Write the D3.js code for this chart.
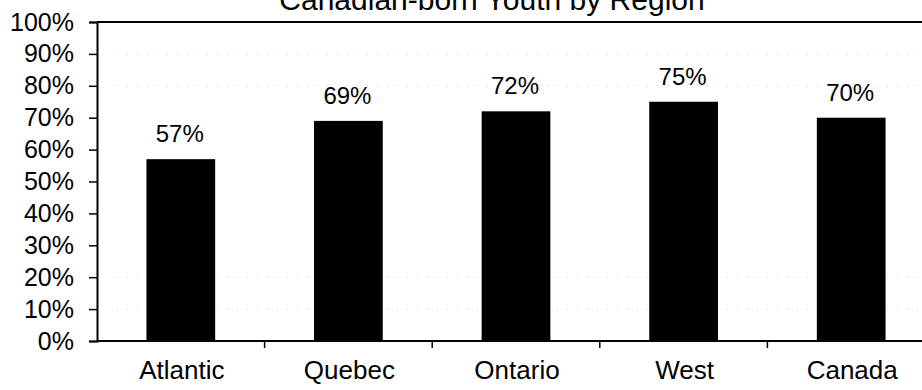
<!DOCTYPE html>
<html>
<head>
<meta charset="utf-8">
<script src="https://cdn.jsdelivr.net/npm/d3@7"></script>
<style>
  html, body { margin: 0; padding: 0; background: #fff; }
  svg { display: block; font-family: "Liberation Sans", Arial, sans-serif; }
</style>
</head>
<body>
<svg id="chart" width="922" height="390"></svg>
<script>
// Share of youth who are Canadian-born, by region (%)
const regions = ["Atlantic", "Quebec", "Ontario", "West", "Canada"];
const shares = [57, 69, 72, 75, 70];
const yTicks = [0, 10, 20, 30, 40, 50, 60, 70, 80, 90, 100];
const titleText = "Canadian-born Youth by Region";

const svg = d3.select("#chart");
const plot = { left: 97, right: 935, top: 22, bottom: 341 };

const x = d3.scaleBand().domain(regions).range([plot.left, plot.right]).padding(0);
const y = d3.scaleLinear().domain([0, 100]).range([plot.bottom, plot.top]);
const barW = x.bandwidth() * 0.41;

// Title (runs off the top edge)
svg.append("text")
  .attr("x", 492).attr("y", 10)
  .attr("text-anchor", "middle")
  .attr("font-size", 30)
  .attr("fill", "#000")
  .text(titleText);

// Faint dotted gridlines
svg.append("g")
  .selectAll("line")
  .data([10, 20, 80, 90])
  .join("line")
  .attr("x1", plot.left + 20).attr("x2", 922)
  .attr("y1", d => y(d)).attr("y2", d => y(d))
  .attr("stroke", "#c8c8c8")
  .attr("stroke-width", 1)
  .attr("stroke-dasharray", "1,9");

// Bars
svg.append("g")
  .selectAll("rect")
  .data(regions)
  .join("rect")
  .attr("x", d => x(d) + (x.bandwidth() - barW) / 2)
  .attr("width", barW)
  .attr("y", (d, i) => y(shares[i]))
  .attr("height", (d, i) => y(0) - y(shares[i]))
  .attr("fill", "#000");

// Value labels
svg.append("g")
  .selectAll("text")
  .data(regions)
  .join("text")
  .attr("x", d => x(d) + x.bandwidth() / 2 - 1)
  .attr("y", (d, i) => y(shares[i]) - 17)
  .attr("text-anchor", "middle")
  .attr("font-size", 24)
  .attr("fill", "#000")
  .text((d, i) => shares[i] + "%");

// Plot frame top edge
svg.append("line")
  .attr("x1", plot.left).attr("x2", 922)
  .attr("y1", plot.top).attr("y2", plot.top)
  .attr("stroke", "#000").attr("stroke-width", 2);

// Y axis
const yAxis = svg.append("g")
  .attr("transform", `translate(${plot.left},0)`)
  .call(d3.axisLeft(y).tickValues(yTicks).tickSize(8).tickPadding(15).tickFormat(d => d + "%"));
yAxis.select(".domain").attr("stroke", "#000").attr("stroke-width", 2);
yAxis.selectAll(".tick line").attr("stroke", "#000").attr("stroke-width", 1.5);
yAxis.selectAll(".tick text")
  .attr("font-family", "Liberation Sans, Arial, sans-serif")
  .attr("font-size", 25).attr("fill", "#000");

// X axis with ticks between categories
const xAxis = svg.append("g")
  .attr("transform", `translate(0,${plot.bottom})`);
xAxis.append("line")
  .attr("x1", plot.left).attr("x2", 922)
  .attr("y1", 0).attr("y2", 0)
  .attr("stroke", "#000").attr("stroke-width", 2);
xAxis.selectAll(".sep")
  .data(regions.slice(1))
  .join("line")
  .attr("class", "sep")
  .attr("x1", d => x(d)).attr("x2", d => x(d))
  .attr("y1", 0).attr("y2", 7)
  .attr("stroke", "#000").attr("stroke-width", 1.5);
xAxis.selectAll(".cat")
  .data(regions)
  .join("text")
  .attr("class", "cat")
  .attr("x", d => x(d) + x.bandwidth() / 2 + 1)
  .attr("y", 38)
  .attr("text-anchor", "middle")
  .attr("font-size", 26)
  .attr("fill", "#000")
  .text(d => d);
</script>
</body>
</html>
